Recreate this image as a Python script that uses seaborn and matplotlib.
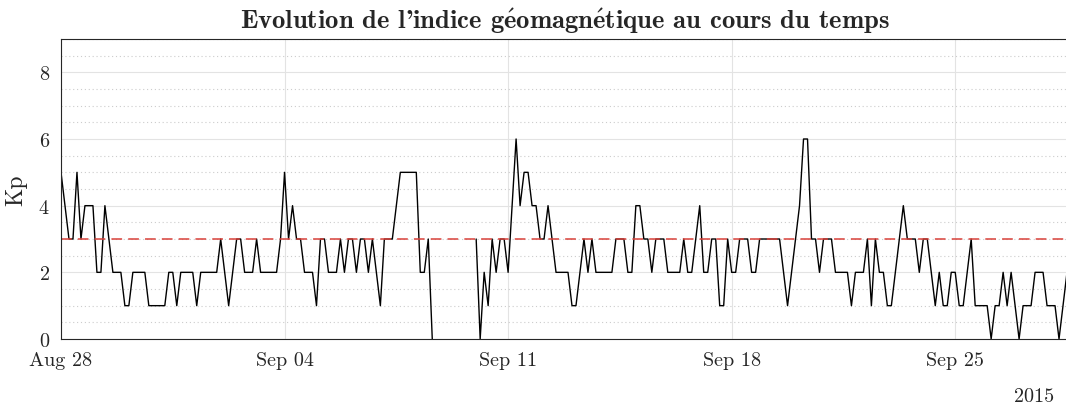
import numpy as np
import pandas as pd
import matplotlib
matplotlib.use("Agg")
import matplotlib.pyplot as plt
from matplotlib.ticker import MultipleLocator, FixedLocator
import seaborn as sns

# 3-hourly planetary Kp index, starting 2015-08-28 00:00 UT (NaN = no data)
start_time = "2015-08-28 00:00"
step_hours = 3
nan = np.nan

kp_week1 = [5, 4, 3, 3, 5, 3, 4, 4,
            4, 2, 2, 4, 3, 2, 2, 2,
            1, 1, 2, 2, 2, 2, 1, 1,
            1, 1, 1, 2, 2, 1, 2, 2,
            2, 2, 1, 2, 2, 2, 2, 2,
            3, 2, 1, 2, 3, 3, 2, 2,
            2, 3, 2, 2, 2, 2, 2, 3]
kp_week2 = [5, 3, 4, 3, 3, 2, 2, 2,
            1, 3, 3, 2, 2, 2, 3, 2,
            3, 3, 2, 3, 3, 2, 3, 2,
            1, 3, 3, 3, 4, 5, 5, 5,
            5, 5, 2, 2, 3, 0, nan, nan,
            nan, nan, nan, nan, nan, nan, nan, nan,
            3, 0, 2, 1, 3, 2, 3, 3]
kp_week3 = [2, 4, 6, 4, 5, 5, 4, 4,
            3, 3, 4, 3, 2, 2, 2, 2,
            1, 1, 2, 3, 2, 3, 2, 2,
            2, 2, 2, 3, 3, 3, 2, 2,
            4, 4, 3, 3, 2, 3, 3, 3,
            2, 2, 2, 2, 3, 2, 2, 3,
            4, 2, 2, 3, 3, 1, 1, 3]
kp_week4 = [2, 2, 3, 3, 3, 2, 2, 3,
            3, 3, 3, 3, 3, 2, 1, 2,
            3, 4, 6, 6, 3, 3, 2, 3,
            3, 3, 2, 2, 2, 2, 1, 2,
            2, 2, 3, 1, 3, 2, 2, 1,
            1, 2, 3, 4, 3, 3, 3, 2,
            3, 3, 2, 1, 2, 1, 1, 2]
kp_week5 = [2, 1, 1, 2, 3, 1, 1, 1,
            1, 0, 1, 1, 2, 1, 2, 1,
            0, 1, 1, 1, 2, 2, 2, 1,
            1, 1, 0, 1, 2, 3]

storm_threshold = 3
y_ticks = [0, 2, 4, 6, 8]
tick_dates = ["2015-08-28", "2015-09-04", "2015-09-11", "2015-09-18", "2015-09-25"]
tick_labels = ["Aug 28", "Sep 04", "Sep 11", "Sep 18", "Sep 25"]
year_label = "2015"
title_text = (r"Evolution de l'indice g$\mathbf{\acute{e}}$omagn$\mathbf{\acute{e}}$"
              r"tique au cours du temps")
y_label = "Kp"

kp = kp_week1 + kp_week2 + kp_week3 + kp_week4 + kp_week5
times = pd.date_range(start_time, periods=len(kp), freq=f"{step_hours}h")
df = pd.DataFrame({"time": times, "kp": kp})
# separate continuous runs so the data gap stays open
df["segment"] = df["kp"].isna().cumsum()
df = df.dropna()

sns.set_theme(style="white")
plt.rcParams["font.family"] = ["cmr10", "DejaVu Serif"]
plt.rcParams["mathtext.fontset"] = "cm"
plt.rcParams["axes.formatter.use_mathtext"] = True
plt.rcParams["axes.unicode_minus"] = False

fig = plt.figure(figsize=(10.66, 4.06), dpi=100)
ax = fig.add_axes([61 / 1066, 66 / 406, 1008 / 1066, 300 / 406])

ax.set_axisbelow(True)
ax.yaxis.set_major_locator(FixedLocator(y_ticks))
ax.yaxis.set_minor_locator(MultipleLocator(0.5))
ax.grid(which="major", color="#e3e3e3", lw=0.8)
ax.grid(which="minor", axis="y", color="#cccccc", lw=0.8, ls=(0, (1, 2.5)))

sns.lineplot(data=df, x="time", y="kp", units="segment", estimator=None,
             color="black", lw=1.0, ax=ax)
ax.axhline(storm_threshold, color="#d9413a", lw=1.1, ls=(0, (7, 4)))

x0 = times[0]
x1 = times[0] + pd.Timedelta(hours=step_hours * 252.5)
ax.set_xlim(x0, x1)
ax.set_ylim(0, 9)
ax.set_xticks(pd.to_datetime(tick_dates))
ax.set_xticklabels(tick_labels)

ax.tick_params(which="major", direction="in", length=4, width=0.8,
               color="#262626", labelsize=14.5, labelcolor="#262626", pad=9)
ax.tick_params(axis="y", which="major", pad=8)
ax.tick_params(which="minor", length=0)
for s in ax.spines.values():
    s.set_color("#262626")
    s.set_linewidth(0.8)

ax.set_xlabel("")
ax.set_ylabel(y_label, fontsize=17, color="#262626", labelpad=8)
ax.set_title(title_text, fontsize=19.2, fontweight="bold",
             family=["cmb10", "DejaVu Serif"], pad=8)
fig.text(1054 / 1066, 1 - 397 / 406, year_label, ha="right", va="center",
         fontsize=14.5, color="#262626")

fig.savefig("out.png", dpi=100, facecolor="white")
